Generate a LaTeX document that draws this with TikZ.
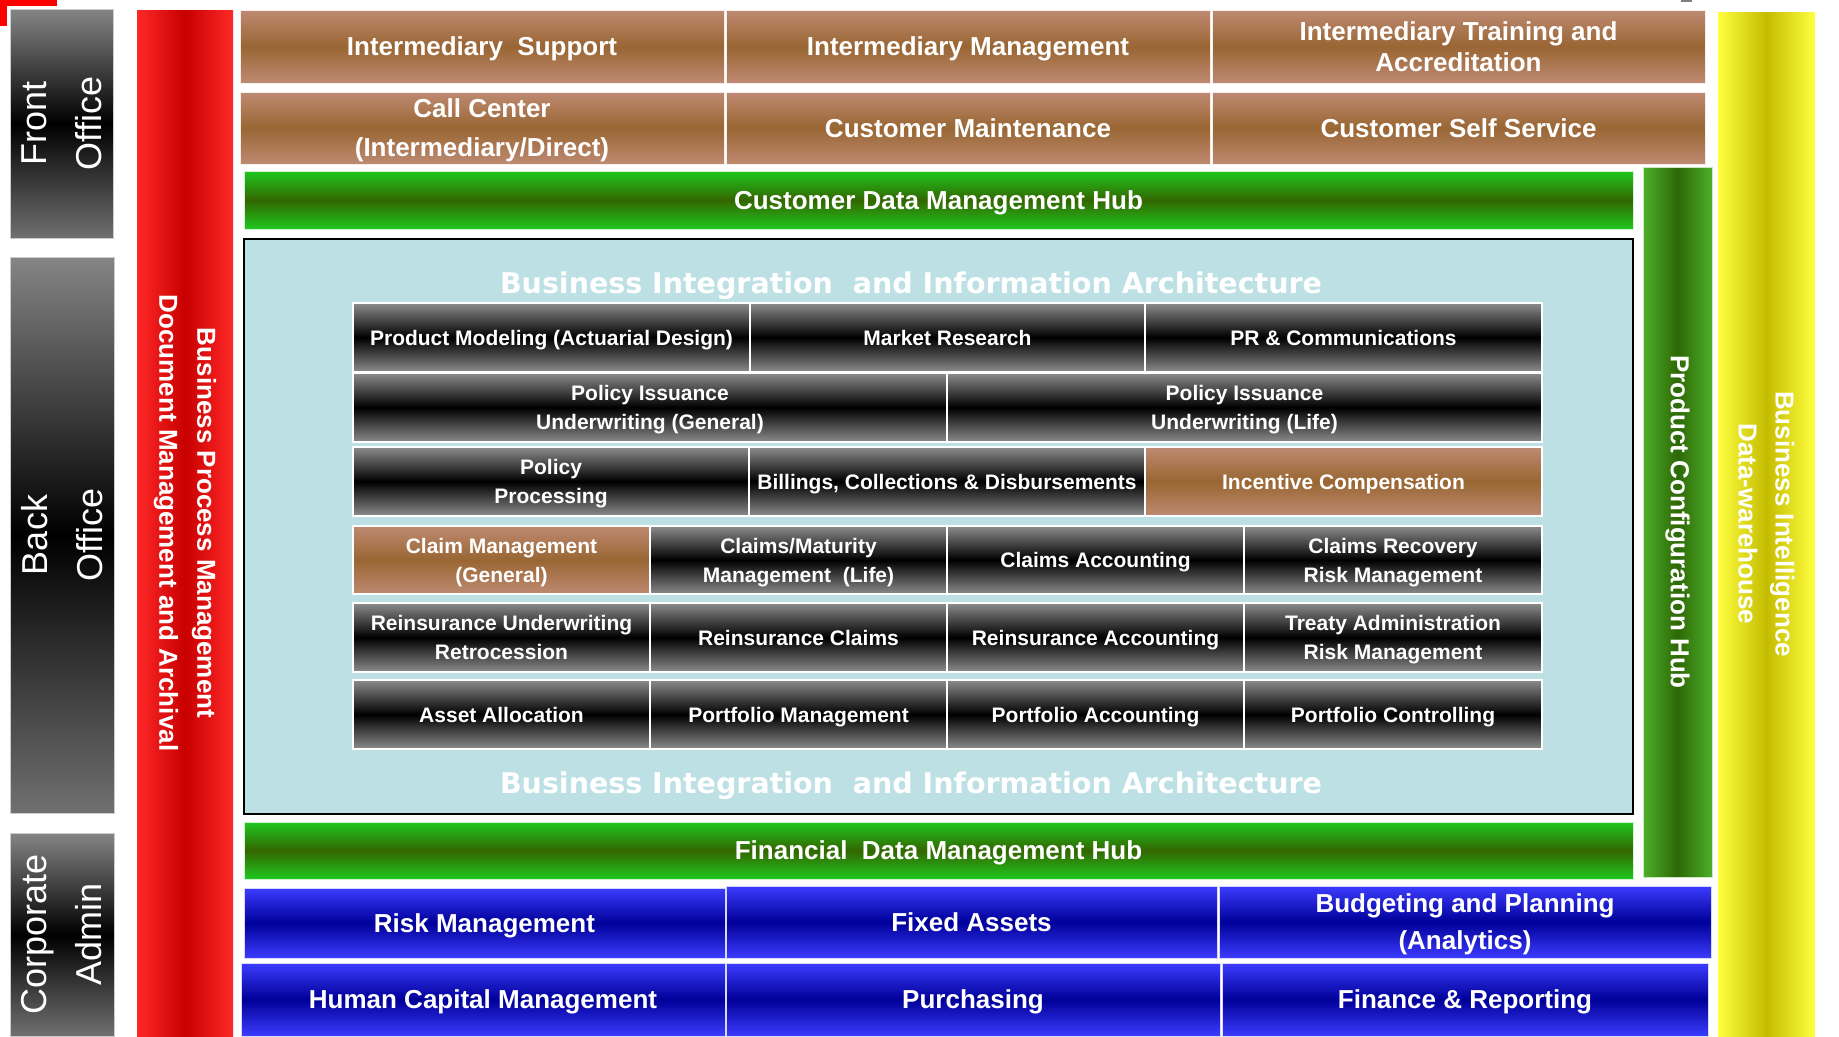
\documentclass[tikz,border=0pt]{standalone}
\usepackage{fontspec}
\setmainfont{Liberation Sans}
\newfontfamily\titlefont{DejaVu Sans}
\usetikzlibrary{positioning}
\definecolor{brownlt}{RGB}{190,138,114}
\definecolor{browndk}{RGB}{153,102,51}
\definecolor{greylt}{RGB}{140,140,140}
\definecolor{sidetop}{RGB}{133,133,133}
\definecolor{sidebot}{RGB}{112,112,112}
\definecolor{hublt}{RGB}{31,200,31}
\definecolor{hubdk}{RGB}{51,102,0}
\definecolor{cfglt}{RGB}{77,175,42}
\definecolor{cfgdk}{RGB}{45,104,5}
\definecolor{redlt}{RGB}{255,40,40}
\definecolor{reddk}{RGB}{200,0,0}
\definecolor{yellt}{RGB}{255,255,64}
\definecolor{yeldk}{RGB}{196,188,0}
\definecolor{bluelt}{RGB}{60,60,255}
\definecolor{bluedk}{RGB}{0,0,153}
\definecolor{panelbg}{RGB}{188,224,227}

\tikzset{
  base/.style={inner sep=0pt, outer sep=0pt, anchor=north west, text=white, align=center, text depth=0pt},
  bigtxt/.style={font=\bfseries\fontsize{26}{38}\selectfont},
  smalltxt/.style={font=\bfseries\fontsize{21}{29}\selectfont},
  browncell/.style={base, bigtxt, draw=white!85!brownlt, line width=1pt,
    top color=brownlt, bottom color=brownlt, middle color=browndk},
  greycell/.style={base, smalltxt, draw=white, line width=1.5pt,
    top color=greylt, bottom color=greylt, middle color=black},
  innerbrown/.style={browncell, smalltxt, draw=white, line width=1.5pt},
  bluecell/.style={base, bigtxt, draw=white!80!bluelt, line width=1pt,
    top color=bluelt, bottom color=bluelt, middle color=bluedk},
  hubbar/.style={base, bigtxt, draw=white!80!hublt, line width=0.8pt,
    top color=hublt, bottom color=hublt, middle color=hubdk},
  sidebox/.style={base, draw=gray!40, line width=0.8pt,
    top color=sidetop, bottom color=sidebot, middle color=black},
  sidelabel/.style={rotate=90, text=white, align=center, font=\fontsize{36}{55}\selectfont},
  barlabel/.style={rotate=-90, text=white, align=center, font=\bfseries\fontsize{26}{38}\selectfont},
  archtitle/.style={text=white, font=\titlefont\bfseries\fontsize{28.5}{34}\selectfont}
}

\begin{document}
\begin{tikzpicture}[x=1pt, y=-1pt]
\useasboundingbox (0,0) rectangle (1839,1036);

% corner marks
\fill[red] (0,0) rectangle (57,6);
\fill[red] (0,0) rectangle (7,26);
\fill[gray] (1681,0) rectangle (1692,2);

% Office columns
\node[sidebox, minimum width=103pt, minimum height=229pt] (front) at (10,9) {};
\node[sidelabel] (frontlbl) at (front.center) {Front\\Office};
\node[sidebox, minimum width=104pt, minimum height=556pt] (back) at (10,257) {};
\node[sidelabel] (backlbl) at (back.center) {Back\\Office};
\node[sidebox, minimum width=104pt, minimum height=203pt] (corp) at (10,833) {};
\node[sidelabel] (corplbl) at (corp.center) {Corporate\\Admin};

% Left bar
\node[base, minimum width=96pt, minimum height=1026pt,
  left color=redlt, right color=redlt, middle color=reddk] (bpm) at (137,10) {};
\node[barlabel] (bpmlbl) at (bpm.center)
  {Business Process Management\\Document Management and Archival};

% Front office
\node[browncell, minimum width=484pt, minimum height=73pt] (isupport) at (240,10) {Intermediary~ Support};
\node[browncell, minimum width=484pt, minimum height=73pt] (imanage) at (726,10) {Intermediary Management};
\node[browncell, minimum width=493pt, minimum height=73pt,
  font=\bfseries\fontsize{26}{31}\selectfont] (itrain) at (1212,10) {Intermediary Training and\\Accreditation};
\node[browncell, minimum width=484pt, minimum height=72pt,
  font=\bfseries\fontsize{26}{39}\selectfont] (callc) at (240,92) {Call Center\\(Intermediary/Direct)};
\node[browncell, minimum width=484pt, minimum height=72pt] (custmaint) at (726,92) {Customer Maintenance};
\node[browncell, minimum width=493pt, minimum height=72pt] (selfserv) at (1212,92) {Customer Self Service};

\node[hubbar, minimum width=1389pt, minimum height=58pt] (custhub) at (244,171) {Customer Data Management Hub};

% Right bars
\node[base, minimum width=69pt, minimum height=710pt, draw=white!70!cfglt, line width=0.8pt,
  left color=cfglt, right color=cfglt, middle color=cfgdk] (cfghub) at (1643,167) {};
\node[barlabel] (cfglbl) at (cfghub.center) {Product Configuration Hub};
\node[base, minimum width=97pt, minimum height=1024pt,
  left color=yellt, right color=yellt, middle color=yeldk] (bi) at (1718,12) {};
\node[barlabel, font=\bfseries\fontsize{26}{37}\selectfont] (bilbl) at (bi.center) {Business Intelligence\\Data-warehouse};

% Back office
\node[base, minimum width=1389pt, minimum height=575pt, fill=panelbg, draw=black, line width=2pt] (panel) at (244,239) {};
\node[archtitle] (archtop) at (911,286) {Business Integration~ and Information Architecture};
\node[archtitle] (archbot) at (911,786) {Business Integration~ and Information Architecture};

\node[greycell, minimum width=397pt, minimum height=69pt] (prodmod) at (353,303) {Product Modeling (Actuarial Design)};
\node[greycell, minimum width=395pt, minimum height=69pt] (market) at (750,303) {Market Research};
\node[greycell, minimum width=397pt, minimum height=69pt] (prcomm) at (1145,303) {PR \& Communications};

\node[greycell, minimum width=594pt, minimum height=69pt] (issgen) at (353,373) {Policy Issuance\\Underwriting (General)};
\node[greycell, minimum width=595pt, minimum height=69pt] (isslife) at (947,373) {Policy Issuance\\Underwriting (Life)};

\node[greycell, minimum width=396pt, minimum height=69pt] (polproc) at (353,447) {Policy\\Processing};
\node[greycell, minimum width=396pt, minimum height=69pt] (billing) at (749,447) {Billings, Collections \& Disbursements};
\node[innerbrown, minimum width=397pt, minimum height=69pt] (incent) at (1145,447) {Incentive Compensation};

\node[innerbrown, minimum width=297pt, minimum height=68pt] (claimgen) at (353,526) {Claim Management\\(General)};
\node[greycell, minimum width=297pt, minimum height=68pt] (claimlife) at (650,526) {Claims/Maturity\\Management~ (Life)};
\node[greycell, minimum width=297pt, minimum height=68pt] (claimacc) at (947,526) {Claims Accounting};
\node[greycell, minimum width=298pt, minimum height=68pt] (claimrec) at (1244,526) {Claims Recovery\\Risk Management};

\node[greycell, minimum width=297pt, minimum height=69pt] (reuw) at (353,603) {Reinsurance Underwriting\\Retrocession};
\node[greycell, minimum width=297pt, minimum height=69pt] (reclaim) at (650,603) {Reinsurance Claims};
\node[greycell, minimum width=297pt, minimum height=69pt] (reacc) at (947,603) {Reinsurance Accounting};
\node[greycell, minimum width=298pt, minimum height=69pt] (treaty) at (1244,603) {Treaty Administration\\Risk Management};

\node[greycell, minimum width=297pt, minimum height=69pt] (asset) at (353,680) {Asset Allocation};
\node[greycell, minimum width=297pt, minimum height=69pt] (pfman) at (650,680) {Portfolio Management};
\node[greycell, minimum width=297pt, minimum height=69pt] (pfacc) at (947,680) {Portfolio Accounting};
\node[greycell, minimum width=298pt, minimum height=69pt] (pfctrl) at (1244,680) {Portfolio Controlling};

\node[hubbar, minimum width=1389pt, minimum height=57pt] (finhub) at (244,822) {Financial~ Data Management Hub};

% Corporate admin
\node[bluecell, minimum width=481pt, minimum height=70pt] (risk) at (244,888) {Risk Management};
\node[bluecell, minimum width=491pt, minimum height=72pt] (fixed) at (726,886) {Fixed Assets};
\node[bluecell, minimum width=492pt, minimum height=72pt,
  font=\bfseries\fontsize{26}{37}\selectfont] (budget) at (1219,886) {Budgeting and Planning\\(Analytics)};
\node[bluecell, minimum width=484pt, minimum height=73pt] (hcm) at (241,963) {Human Capital Management};
\node[bluecell, minimum width=494pt, minimum height=73pt] (purch) at (726,963) {Purchasing};
\node[bluecell, minimum width=486pt, minimum height=73pt] (finrep) at (1222,963) {Finance \& Reporting};

\end{tikzpicture}
\end{document}
